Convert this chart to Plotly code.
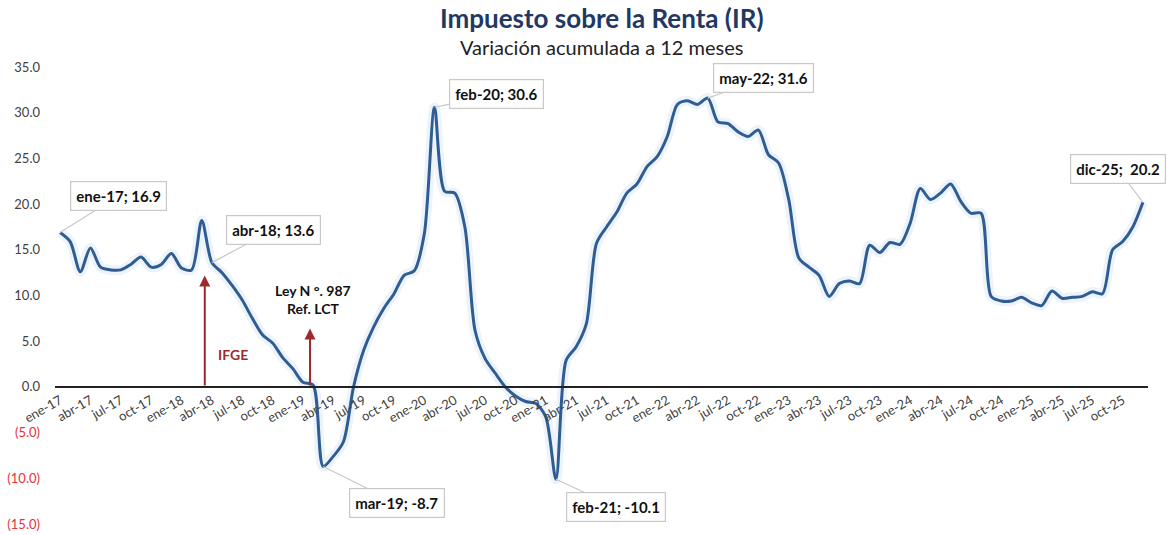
import plotly.graph_objects as go

# ---------------- data ----------------
month_abbr = ["ene", "feb", "mar", "abr", "may", "jun", "jul", "ago", "sep", "oct", "nov", "dic"]
years = ["17", "18", "19", "20", "21", "22", "23", "24", "25"]
months = [f"{m}-{y}" for y in years for m in month_abbr]

values = [
    # 2017
    16.9, 15.9, 12.6, 15.2, 13.1, 12.8, 12.8, 13.4, 14.2, 13.1, 13.4, 14.6,
    # 2018
    13.0, 12.8, 18.2, 13.6, 12.5, 11.1, 9.5, 7.5, 5.7, 4.8, 3.2, 2.0,
    # 2019
    0.5, 0.2, -8.7, -7.6, -6.0, 0.0, 4.0, 6.6, 8.6, 10.2, 12.2, 12.7,
    # 2020
    16.8, 30.6, 21.4, 21.2, 17.5, 6.2, 3.1, 1.5, 0.0, -1.0, -1.6, -1.8,
    # 2021
    -3.3, -10.1, 2.9, 4.4, 6.9, 15.7, 17.5, 19.1, 21.2, 22.2, 24.1, 25.2,
    # 2022
    27.4, 30.9, 31.3, 30.9, 31.6, 29.0, 28.8, 27.9, 27.4, 28.1, 25.4, 24.5,
    # 2023
    20.5, 14.1, 13.1, 12.2, 9.9, 11.3, 11.6, 11.3, 15.5, 14.7, 15.8, 15.6,
    # 2024
    17.9, 21.7, 20.5, 21.2, 22.2, 20.3, 19.0, 19.0, 9.9, 9.4, 9.4, 9.8,
    # 2025
    9.2, 8.9, 10.5, 9.7, 9.8, 9.9, 10.4, 10.2, 15.0, 15.9, 17.5, 20.2,
]

y_tickvals = [35, 30, 25, 20, 15, 10, 5, 0, -5, -10, -15]
y_ticktext = ["35.0", "30.0", "25.0", "20.0", "15.0", "10.0", "5.0", "0.0",
              "<span style='color:#E8303A'>(5.0)</span>",
              "<span style='color:#E8303A'>(10.0)</span>",
              "<span style='color:#E8303A'>(15.0)</span>"]

callouts = [  # (month label, text, box x offset px, box y offset px)
    ("ene-17", "ene-17; 16.9", 58, -36),
    ("abr-18", "abr-18; 13.6", 62, -33),
    ("feb-20", "feb-20; 30.6", 62, -13),
    ("may-22", "may-22; 31.6", 56, -20),
    ("dic-25", "dic-25;  20.2", -25, -33),
    ("mar-19", "mar-19; -8.7", 74, 37),
    ("feb-21", "feb-21; -10.1", 60, 28),
]

# event arrows: (position in months from ene-17, top value)
ifge_pos, ifge_top = 14.3, 12.2
ley_pos, ley_top = 24.7, 6.4

x_idx = list(range(len(months)))
tick_idx = x_idx[::3]
tick_txt = months[::3]

FONT = "Lato, 'Open Sans', sans-serif"
LINE_COLOR = "#2F5C92"
RED = "#9E2A2F"

fig = go.Figure()
# soft glow
fig.add_trace(go.Scatter(x=x_idx, y=values, mode="lines",
                         line=dict(color="rgba(200,222,242,0.35)", width=10, shape="spline", smoothing=0.8),
                         hoverinfo="skip", showlegend=False))
fig.add_trace(go.Scatter(x=x_idx, y=values, mode="lines",
                         line=dict(color=LINE_COLOR, width=3, shape="spline", smoothing=0.8),
                         showlegend=False))

annotations = []
# title & subtitle
annotations.append(dict(text="<b>Impuesto sobre la Renta (IR)</b>", xref="paper", yref="paper",
                        x=0.5, y=1, yshift=49, xanchor="center", yanchor="middle", showarrow=False,
                        font=dict(family=FONT, size=26, color="#1F3864")))
annotations.append(dict(text="Variación acumulada a 12 meses", xref="paper", yref="paper",
                        x=0.5, y=1, yshift=20, xanchor="center", yanchor="middle", showarrow=False,
                        font=dict(family=FONT, size=20, color="#222222")))

for lab, txt, dx, dy in callouts:
    i = months.index(lab)
    annotations.append(dict(x=i, y=values[i], xref="x", yref="y", text=f"<b>{txt}</b>",
                            showarrow=True, ax=dx, ay=dy, arrowhead=0, arrowwidth=1.2,
                            arrowcolor="#C8C8C8", bordercolor="#C8C8C8", borderwidth=1.2,
                            borderpad=5, bgcolor="white", standoff=0,
                            font=dict(family=FONT, size=15, color="#111111")))

# event arrows
for pos, top in [(ifge_pos, ifge_top), (ley_pos, ley_top)]:
    annotations.append(dict(x=pos, y=top, ax=pos, ay=0, xref="x", yref="y", axref="x", ayref="y",
                            text="", showarrow=True, arrowhead=2, arrowsize=1.1, arrowwidth=2,
                            arrowcolor=RED))
annotations.append(dict(x=ifge_pos, y=3.5, xref="x", yref="y", xshift=28, text="<b>IFGE</b>",
                        showarrow=False, font=dict(family=FONT, size=14, color=RED)))
annotations.append(dict(x=ley_pos, y=9.6, xref="x", yref="y", xshift=3,
                        text="<b>Ley N °. 987<br>Ref. LCT</b>", showarrow=False,
                        font=dict(family=FONT, size=14, color="#111111")))

fig.update_layout(
    width=1167, height=535,
    margin=dict(l=55, r=19, t=67, b=11, autoexpand=False),
    paper_bgcolor="white", plot_bgcolor="white",
    font=dict(family=FONT, size=13, color="#404040"),
    annotations=annotations,
    showlegend=False,
    hovermode=False,
    xaxis=dict(range=[-0.5, 107.5], tickmode="array", tickvals=tick_idx, ticktext=tick_txt,
               tickangle=-30, showgrid=False, zeroline=False, showline=True, linecolor="#222222",
               linewidth=2, anchor="free", position=0.3, ticks="", automargin=False,
               tickfont=dict(family=FONT, size=13, color="#404040")),
    yaxis=dict(range=[-15, 35], tickmode="array", tickvals=y_tickvals, ticktext=y_ticktext,
               showgrid=False, zeroline=False, showline=False, ticks="", ticklabelstandoff=14,
               automargin=False, tickfont=dict(family=FONT, size=13, color="#404040")),
)

# remove the default page margin so the figure fills the window exactly
fig.write_html("out.html", config={"displayModeBar": False},
               post_script="document.body.style.margin='0px';")
